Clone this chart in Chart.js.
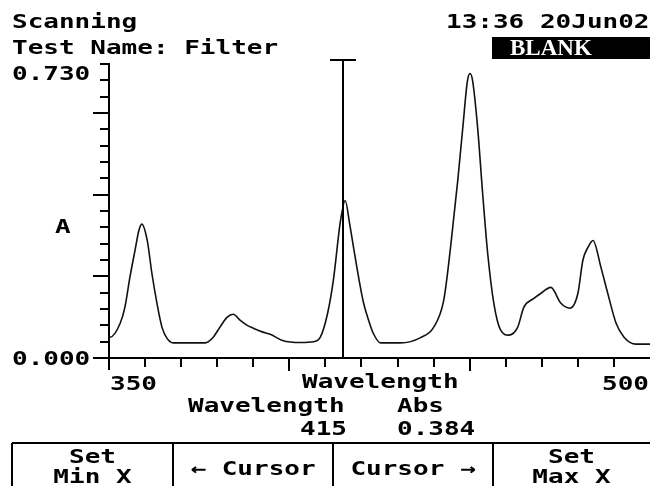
<!DOCTYPE html>
<html>
<head>
<meta charset="utf-8">
<script src="https://cdn.jsdelivr.net/npm/chart.js@4"></script>
<style>
  html, body { margin: 0; padding: 0; background: #fff; }
  #wrap { position: relative; width: 650px; height: 486px; overflow: hidden; }
  canvas { position: absolute; left: 0; top: 0; }
  .t {
    position: absolute;
    font-family: "DejaVu Sans Mono", monospace;
    font-weight: bold;
    font-size: 20px;
    line-height: 20px;
    color: #000;
    white-space: pre;
    transform: scaleX(1.3);
    transform-origin: 0 0;
  }
  .blank {
    position: absolute; left: 492px; top: 37px; width: 160px; height: 22px;
    background: #000; color: #fff;
    font-family: "Liberation Serif", serif; font-weight: bold;
    font-size: 23px; line-height: 22px; padding-left: 18px; box-sizing: border-box;
  }
  .btn { position: absolute; top: 443px; height: 43px; text-align: center; }
  .btn .t { position: static; transform-origin: 50% 0; }
</style>
</head>
<body>
<div id="wrap">
  <canvas id="myChart" width="650" height="486"></canvas>

  <div class="t" style="left:12px; top:11px;">Scanning</div>
  <div class="t" style="left:12px; top:37px;">Test Name: Filter</div>
  <div class="t" style="left:446px; top:11px;">13:36 20Jun02</div>
  <div class="blank">BLANK</div>

  <div class="t" id="yMaxLabel" style="left:12px; top:63px;"></div>
  <div class="t" id="yMinLabel" style="left:12px; top:348px;"></div>
  <div class="t" style="left:55px; top:216px;">A</div>

  <div class="t" id="xMinLabel" style="left:110px; top:373px;"></div>
  <div class="t" style="left:302px; top:371px;">Wavelength</div>
  <div class="t" id="xMaxLabel" style="left:602px; top:373px;"></div>

  <div class="t" style="left:188px; top:395px;">Wavelength</div>
  <div class="t" style="left:397px; top:395px;">Abs</div>
  <div class="t" id="cursorX" style="left:300px; top:418px;"></div>
  <div class="t" id="cursorY" style="left:397px; top:418px;"></div>

  <div class="btn" style="left:12px; width:161px;">
    <div class="t" style="margin-top:3px;">Set</div>
    <div class="t">Min X</div>
  </div>
  <div class="btn" style="left:173px; width:160px;">
    <div class="t" style="margin-top:15px;">← Cursor</div>
  </div>
  <div class="btn" style="left:333px; width:160px;">
    <div class="t" style="margin-top:15px;">Cursor →</div>
  </div>
  <div class="btn" style="left:493px; width:157px;">
    <div class="t" style="margin-top:3px;">Set</div>
    <div class="t">Max X</div>
  </div>
</div>

<script>
// scan data (nm, absorbance)
const wavelengths = [
  350, 350.3, 353.1, 354.4, 355.8, 357.2, 358.3, 359.1, 360.6, 361.9,
  363.3, 364.7, 366.1, 367.8, 376.7, 378.9, 380.8, 382.8, 384.4, 386.4,
  388.3, 390, 392.5, 394.7, 398.1, 403.1, 406.7, 408.6, 410.6, 412.2,
  414.2, 415.5, 416.7, 417.8, 419.2, 420.6, 422, 423.3, 425.3, 430.8,
  436.4, 440, 442.8, 444.7, 446.7, 448.1, 449.4, 450.1, 450.8, 452.2,
  453.6, 455, 456.7, 458.6, 460.8, 463.3, 465, 467.8, 469.7, 472.5,
  475.3, 477.8, 480, 481.4, 482.8, 484.2, 486.4, 488.3, 490.6, 492.8,
  496.1, 500
];
const absorbance = [
  0.053, 0.051, 0.085, 0.124, 0.198, 0.263, 0.313, 0.328, 0.288, 0.207,
  0.134, 0.075, 0.048, 0.037, 0.037, 0.051, 0.076, 0.100, 0.107, 0.092,
  0.080, 0.073, 0.064, 0.058, 0.043, 0.038, 0.040, 0.051, 0.109, 0.190,
  0.337, 0.386, 0.330, 0.271, 0.198, 0.134, 0.092, 0.060, 0.037, 0.037,
  0.050, 0.075, 0.141, 0.271, 0.435, 0.565, 0.680, 0.697, 0.680, 0.565,
  0.403, 0.256, 0.134, 0.068, 0.056, 0.075, 0.124, 0.146, 0.158, 0.173,
  0.134, 0.122, 0.158, 0.240, 0.271, 0.288, 0.222, 0.158, 0.085, 0.051,
  0.034, 0.034
];

const xRange = [350, 500];
const yRange = [0, 0.73];
const xTickLabels = ['350', '500'];
const yTickLabels = ['0.000', '0.730'];
const cursorWavelength = 415;
const cursorAbs = '0.384';

document.getElementById('xMinLabel').textContent = xTickLabels[0];
document.getElementById('xMaxLabel').textContent = xTickLabels[1];
document.getElementById('yMinLabel').textContent = yTickLabels[0];
document.getElementById('yMaxLabel').textContent = yTickLabels[1];
document.getElementById('cursorX').textContent = String(cursorWavelength);
document.getElementById('cursorY').textContent = cursorAbs;

// axes, ticks, cursor and button frame
const screenPlugin = {
  id: 'screen',
  afterDraw(chart) {
    const ctx = chart.ctx;
    const xs = chart.scales.x;
    const ys = chart.scales.y;
    const area = chart.chartArea;
    const x0 = xs.getPixelForValue(xRange[0]);
    const y0 = ys.getPixelForValue(0);

    ctx.save();
    ctx.strokeStyle = '#000';
    ctx.lineWidth = 2;

    // axis lines
    ctx.beginPath();
    ctx.moveTo(x0, ys.getPixelForValue(0.72) - 1);
    ctx.lineTo(x0, y0 + 12);
    ctx.moveTo(x0 - 16, y0);
    ctx.lineTo(650, y0);
    ctx.stroke();

    // y ticks every 0.04, long ones every 0.2
    for (let i = 1; i <= 18; i++) {
      const v = i * 0.04;
      const py = Math.round(ys.getPixelForValue(v));
      const len = (i % 5 === 0) ? 16 : 9;
      ctx.beginPath();
      ctx.moveTo(x0 - len, py);
      ctx.lineTo(x0, py);
      ctx.stroke();
    }

    // x ticks every 10 nm
    for (let w = 360; w < 500; w += 10) {
      const px = Math.round(xs.getPixelForValue(w));
      const len = (w === 400 || w === 450) ? 13 : 9;
      ctx.beginPath();
      ctx.moveTo(px, y0);
      ctx.lineTo(px, y0 + len);
      ctx.stroke();
    }

    // cursor
    const cx = Math.round(xs.getPixelForValue(cursorWavelength));
    ctx.beginPath();
    ctx.moveTo(cx, area.top);
    ctx.lineTo(cx, y0);
    ctx.moveTo(cx - 13, area.top);
    ctx.lineTo(cx + 13, area.top);
    ctx.stroke();

    // soft key frame
    ctx.beginPath();
    ctx.moveTo(12, 443);
    ctx.lineTo(650, 443);
    [12, 173, 333, 493].forEach((bx) => {
      ctx.moveTo(bx, 443);
      ctx.lineTo(bx, 486);
    });
    ctx.stroke();
    ctx.restore();
  }
};

const data = {
  datasets: [{
    data: wavelengths.map((w, i) => ({ x: w, y: absorbance[i] })),
    borderColor: '#111',
    borderWidth: 1.6,
    pointRadius: 0,
    fill: false,
    cubicInterpolationMode: 'monotone'
  }]
};

const config = {
  type: 'line',
  data: data,
  options: {
    responsive: false,
    animation: false,
    layout: { padding: { left: 109, top: 60, right: 0, bottom: 128 } },
    plugins: {
      legend: { display: false },
      tooltip: { enabled: false }
    },
    scales: {
      x: { type: 'linear', min: xRange[0], max: xRange[1], display: false },
      y: { min: yRange[0], max: yRange[1], display: false }
    }
  },
  plugins: [screenPlugin]
};

const ctx = document.getElementById('myChart').getContext('2d');
new Chart(ctx, config);
</script>
</body>
</html>
